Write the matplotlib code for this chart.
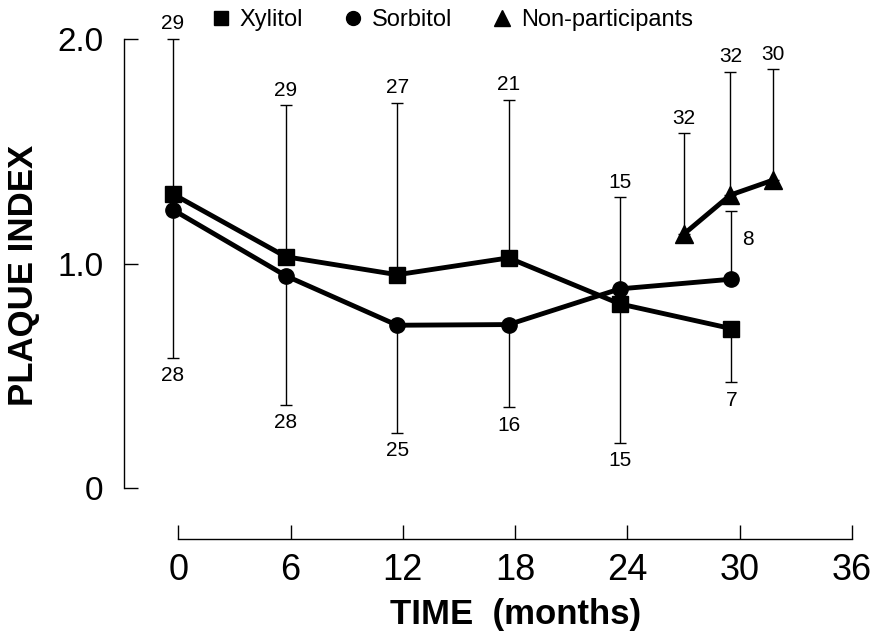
import numpy as np
import matplotlib.pyplot as plt
from matplotlib.lines import Line2D
from matplotlib.transforms import blended_transform_factory

plt.rcParams['font.family'] = ['Liberation Sans', 'DejaVu Sans']

# visit times (months)
months = [-0.3, 5.75, 11.7, 17.65, 23.6, 29.55]

# Xylitol: mean plaque index, end of its one-sided SD bar, n
xyl_mean = [1.31, 1.03, 0.95, 1.025, 0.82, 0.71]
xyl_end = [2.0, 1.705, 1.715, 1.73, 0.20, 0.47]
xyl_n = [29, 29, 27, 21, 15, 7]

# Sorbitol
sorb_mean = [1.24, 0.945, 0.725, 0.728, 0.887, 0.93]
sorb_end = [0.58, 0.37, 0.245, 0.36, 1.295, 1.235]
sorb_n = [28, 28, 25, 16, 15, 8]

# Non-participants
non_months = [27.0, 29.5, 31.8]
non_mean = [1.13, 1.305, 1.372]
non_end = [1.58, 1.855, 1.866]
non_n = [32, 32, 30]

xticks = [0, 6, 12, 18, 24, 30, 36]
yticks = [0, 1.0, 2.0]
ytick_labels = ['0', '1.0', '2.0']
legend_labels = ['Xylitol', 'Sorbitol', 'Non-participants']

fig = plt.figure(figsize=(8.75, 6.35), dpi=100)
ax = fig.add_axes([124/875, 1 - 488/635, (852 - 124)/875, 449/635])


def draw(x, mean, end, n, marker, ms, side=()):
    x = np.array(x)
    mean = np.array(mean)
    end = np.array(end)
    up = np.where(end > mean, end - mean, 0)
    down = np.where(end < mean, mean - end, 0)
    ax.errorbar(x, mean, yerr=[down, up], fmt='none', ecolor='black',
                elinewidth=1, capsize=4.5, capthick=1, zorder=2)
    ax.plot(x, mean, color='black', lw=3.5, marker=marker, ms=ms, zorder=3)
    for i, (xi, mi, ei, ni) in enumerate(zip(x, mean, end, n)):
        if i in side:
            ax.annotate(str(ni), (xi, (mi + ei) / 2), xytext=(8, 4),
                        textcoords='offset points', ha='left', va='center',
                        fontsize=15)
        elif ei > mi:
            ax.annotate(str(ni), (xi, ei), xytext=(0, 4),
                        textcoords='offset points', ha='center', va='bottom',
                        fontsize=15)
        else:
            ax.annotate(str(ni), (xi, ei), xytext=(0, -6),
                        textcoords='offset points', ha='center', va='top',
                        fontsize=15)


draw(months, xyl_mean, xyl_end, xyl_n, 's', 11)
draw(months, sorb_mean, sorb_end, sorb_n, 'o', 11, side=(5,))
draw(non_months, non_mean, non_end, non_n, '^', 13)

for a in ax.get_children():
    a.set_clip_on(False)

ax.set_xlim(-2.9, 36)
ax.set_ylim(0, 2.0)
ax.spines['top'].set_visible(False)
ax.spines['right'].set_visible(False)
ax.spines['left'].set_bounds(0, 2.0)
ax.spines['bottom'].set_bounds(0, 36)
ax.spines['bottom'].set_position(('outward', 36.7))
for s in ['left', 'bottom']:
    ax.spines[s].set_linewidth(1)

ax.set_xticks(xticks)
ax.set_yticks(yticks)
ax.set_yticklabels(ytick_labels)
ax.tick_params(direction='in', length=10, width=1)
ax.tick_params(axis='x', labelsize=26, pad=10)
ax.tick_params(axis='y', labelsize=24, pad=15)

ax.set_xlabel('TIME  (months)', fontsize=25, fontweight='bold')
ax.xaxis.set_label_coords(18, -0.245,
                          transform=blended_transform_factory(ax.transData, ax.transAxes))
ax.set_ylabel('PLAQUE INDEX', fontsize=25, fontweight='bold')
ax.yaxis.set_label_coords(-0.115, 0.474)

handles = [Line2D([], [], color='black', ls='none', marker=m, ms=s)
           for m, s in zip(['s', 'o', '^'], [10, 10, 11])]
fig.legend(handles, legend_labels, loc='center', bbox_to_anchor=(0.518, 0.968),
           ncol=3, frameon=False, fontsize=17, handlelength=0.6,
           handletextpad=0.5, columnspacing=1.8, borderpad=0)

fig.savefig('out.png', dpi=100)
